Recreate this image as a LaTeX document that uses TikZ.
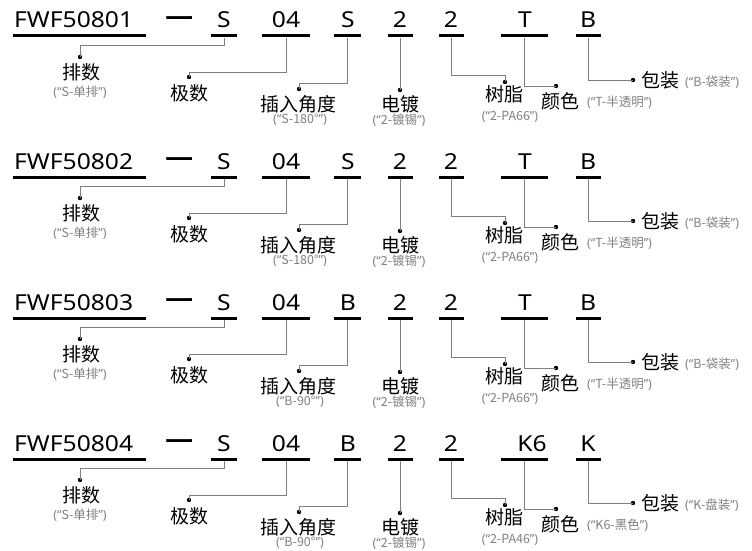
\documentclass[tikz,border=0pt]{standalone}
\usepackage{fontspec}
\setmainfont{Noto Sans}
\newfontfamily\cjk{Noto Sans CJK SC}
\newfontfamily\cjkbar[FakeBold=2.5]{Noto Sans CJK SC}
\newfontfamily\codefont[FakeStretch=1.12]{Noto Sans}
\usepackage{xcolor}
\usetikzlibrary{positioning}
\definecolor{cWire}{HTML}{7F7F7F}
\definecolor{cNote}{HTML}{808080}
\newcommand\noteq[1]{{\rmfamily(“}#1{\rmfamily”)}}
\tikzstyle{codetxt} = [inner sep=0pt, anchor=base, font=\codefont\fontsize{22}{26}\selectfont]
\tikzstyle{codebar} = [rectangle, fill=black, inner sep=0pt, minimum height=3pt]
\tikzstyle{endpt}   = [circle, fill=black, inner sep=0pt, minimum size=4.4pt]
\tikzstyle{lbl}     = [inner sep=0pt, font=\cjk\fontsize{19}{22}\selectfont]
\tikzstyle{note}    = [inner sep=0pt, text=cNote, font=\cjk\fontsize{12.5}{15}\selectfont]
\tikzstyle{wire}    = [draw=cWire, line width=0.9pt]

\begin{document}
\begin{tikzpicture}[x=1pt, y=-1pt]
\useasboundingbox (0,0) rectangle (752,551);
\foreach \code/\ang/\col/\colx/\pk/\sang/\sres/\scol/\spk [count=\i from 0] in
  {FWF50801/S/T/525/B/S-180°/2-PA66/T-半透明/B-袋装,
   FWF50802/S/T/525/B/S-180°/2-PA66/T-半透明/B-袋装,
   FWF50803/B/T/525/B/B-90°/2-PA66/T-半透明/B-袋装,
   FWF50804/B/K6/532/K/B-90°/2-PA46/K6-黑色/K-盘装}
{
\pgfmathsetmacro{\u}{36+141*\i}
% code line
\node (code\i) [codetxt, anchor=base west] at (14,\u-8) {\code};
\node (dash\i) [codetxt, font=\cjkbar\fontsize{27}{29}\selectfont] at (179,\u-8) {一};
\node (row\i)  [codetxt] at (224,\u-8) {S};
\node (pole\i) [codetxt] at (286,\u-8) {04};
\node (ang\i)  [codetxt] at (348,\u-8) {\ang};
\node (plt\i)  [codetxt] at (400,\u-8) {2};
\node (res\i)  [codetxt] at (451,\u-8) {2};
\node (col\i)  [codetxt] at (\colx,\u-8) {\col};
\node (pk\i)   [codetxt] at (588,\u-8) {\pk};
\node (barF\i) [codebar, minimum width=133pt] at (79.5,\u) {};
\node (barS\i) [codebar, minimum width=26pt] at (224,\u) {};
\node (barP\i) [codebar, minimum width=48pt] at (286,\u) {};
\node (barA\i) [codebar, minimum width=27pt] at (347.5,\u) {};
\node (barD\i) [codebar, minimum width=25pt] at (400,\u) {};
\node (barR\i) [codebar, minimum width=25pt] at (451.5,\u) {};
\node (barC\i) [codebar, minimum width=47pt] at (524.5,\u) {};
\node (barK\i) [codebar, minimum width=25pt] at (588.5,\u) {};
% end points
\node (dotS\i) [endpt] at (80,\u+21) {};
\node (dotP\i) [endpt] at (189,\u+41) {};
\node (dotA\i) [endpt] at (299,\u+53) {};
\node (dotD\i) [endpt] at (400,\u+54) {};
\node (dotR\i) [endpt] at (505,\u+46) {};
\node (dotC\i) [endpt] at (556,\u+50) {};
\node (dotK\i) [endpt] at (633,\u+44) {};
% labels
\node (lblS\i) [lbl] at (81,\u+36) {排数};
\node (lblP\i) [lbl] at (189,\u+57) {极数};
\node (lblA\i) [lbl] at (298,\u+68) {插入角度};
\node (lblD\i) [lbl] at (400,\u+68) {电镀};
\node (lblR\i) [lbl] at (504,\u+58) {树脂};
\node (lblC\i) [lbl] at (560,\u+65) {颜色};
\node (lblK\i) [lbl] at (660,\u+44) {包装};
\node (notS\i) [note] at (80,\u+56) {\noteq{S-单排}};
\node (notA\i) [note] at (300,\u+84) {\noteq{\sang}};
\node (notD\i) [note] at (399,\u+84) {\noteq{2-镀锡}};
\node (notR\i) [note] at (510,\u+81) {\noteq{\sres}};
\node (notC\i) [note, anchor=west] at (587,\u+66) {\noteq{\scol}};
\node (notK\i) [note, anchor=west] at (685,\u+46) {\noteq{\spk}};
% wires
\draw [wire] (barS\i.south) -- ++(0,8) -| (dotS\i.center);
\draw [wire] (barP\i.south) -- ++(0,35) -| (dotP\i.center);
\draw [wire] (barA\i.south) -- ++(0,46) -| (dotA\i.center);
\draw [wire] (barD\i.south) -- (dotD\i.center);
\draw [wire] (barR\i.south) -- ++(0,38) -| (dotR\i.center);
\draw [wire] (barC\i.south) |- (dotC\i.center);
\draw [wire] (barK\i.south) |- (dotK\i.center);
}
\end{tikzpicture}
\end{document}
